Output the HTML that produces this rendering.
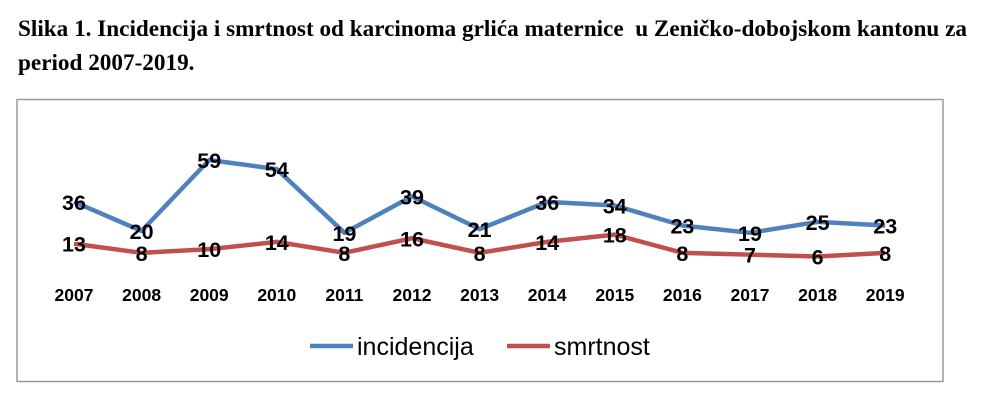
<!DOCTYPE html>
<html><head><meta charset="utf-8"><style>
body{margin:0;width:1000px;height:409px;background:#fff;overflow:hidden;position:relative}
.t{position:absolute;left:18px;font-family:"Liberation Serif",serif;font-weight:bold;font-size:23.2px;color:#000;white-space:nowrap}
</style></head><body>
<div class="t" style="top:16px">Slika 1. Incidencija i smrtnost od karcinoma grlića maternice&nbsp; u Zeničko-dobojskom kantonu za</div>
<div class="t" style="top:50px">period 2007-2019.</div>
<svg width="1000" height="409" style="position:absolute;left:0;top:0" font-family="Liberation Sans, sans-serif">
<rect x="17" y="99.5" width="926" height="282" fill="none" stroke="#999" stroke-width="1.5"/>
<g id="g"></g>
</svg>
<script>
var inc=[36,20,59,54,19,39,21,36,34,23,19,25,23],sm=[13,8,10,14,8,16,8,14,18,8,7,6,8];
var X=i=>74+i*67.6,Y=v=>160+(59-v)*1.82;
var s='';
function line(d,c){s+='<polyline fill="none" stroke="'+c+'" stroke-width="4.5" stroke-linejoin="round" points="'+d.map((v,i)=>X(i)+','+Y(v)).join(' ')+'"/>';}
line(inc,'#4f81bd');line(sm,'#c0504d');
function lab(d){d.forEach((v,i)=>{s+='<text x="'+X(i)+'" y="'+(Y(v)+8)+'" text-anchor="middle" font-weight="bold" font-size="21.5" fill="#000">'+v+'</text>';});}
lab(inc);lab(sm);
for(var i=0;i<13;i++)s+='<text x="'+X(i)+'" y="301" text-anchor="middle" font-weight="bold" font-size="17.5" fill="#000">'+(2007+i)+'</text>';
s+='<line x1="310" y1="346" x2="353" y2="346" stroke="#4f81bd" stroke-width="4.5"/><text x="357" y="355" font-size="25" fill="#000">incidencija</text>';
s+='<line x1="507" y1="346" x2="550" y2="346" stroke="#c0504d" stroke-width="4.5"/><text x="554" y="355" font-size="25" fill="#000">smrtnost</text>';
document.getElementById('g').innerHTML=s;
</script>
</body></html>
